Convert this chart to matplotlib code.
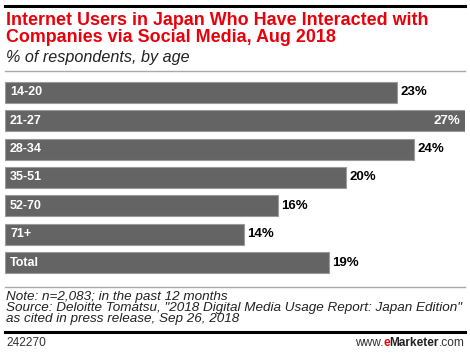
import matplotlib.pyplot as plt
from matplotlib.lines import Line2D

W, H = 470, 357

categories = ["14-20", "21-27", "28-34", "35-51", "52-70", "71+", "Total"]
values = [23, 27, 24, 20, 16, 14, 19]

title = "Internet Users in Japan Who Have Interacted with\nCompanies via Social Media, Aug 2018"
subtitle = "% of respondents, by age"
note = ("Note: n=2,083; in the past 12 months\n"
        "Source: Deloitte Tomatsu, \"2018 Digital Media Usage Report: Japan Edition\"\n"
        "as cited in press release, Sep 26, 2018")
chart_id = "242270"

plt.rcParams["font.family"] = ["Liberation Sans", "DejaVu Sans"]

fig = plt.figure(figsize=(W / 100, H / 100), dpi=100)


def fx(px):
    return px / W


def fy(py):
    return 1 - py / H


def hline(y, x0, x1, color, lw):
    fig.add_artist(Line2D([fx(x0), fx(x1)], [fy(y), fy(y)], color=color,
                          linewidth=lw, transform=fig.transFigure))


# header
hline(6, 5, 465, "black", 2.2)
fig.text(fx(6), fy(12), title, color="#e8000b", fontsize=12.9, fontweight="bold",
         va="top", ha="left", linespacing=0.98)
fig.text(fx(6), fy(50), subtitle, color="#222222", fontsize=11.6, style="italic",
         va="top", ha="left")
hline(71, 5, 465, "#aaaaaa", 1)

# bars
ax = fig.add_axes([fx(5), fy(276.7), fx(465) - fx(5), (276.7 - 78.3) / H])
y = range(len(categories))
ax.barh(y, values, height=0.74, color="#646464", edgecolor="#9a9a9a", linewidth=0.8)
ax.set_xlim(0, 27)
ax.set_ylim(6.5, -0.5)
ax.axis("off")

for i, (cat, v) in enumerate(zip(categories, values)):
    ax.text(0.3, i, cat, color="white", fontweight="bold", fontsize=9,
            va="center", ha="left")
    if v == max(values):
        ax.text(v - 0.3, i, f"{v}%", color="white", fontweight="bold",
                fontsize=9.5, va="center", ha="right")
    else:
        ax.text(v + 0.2, i, f"{v}%", color="black", fontweight="bold",
                fontsize=9.5, va="center", ha="left")

# footer
hline(287, 5, 465, "#aaaaaa", 1)
fig.text(fx(6), fy(291), note, color="#222222", fontsize=9.7, style="italic",
         va="top", ha="left", linespacing=0.9)
hline(332, 5, 465, "black", 2.2)
fs_foot = 8.6
fig.text(fx(6), fy(343), chart_id, color="#333333", fontsize=fs_foot,
         va="center", ha="left")
# eMarketer logo text built from pieces, right aligned
r = fig.canvas.get_renderer()
t3 = fig.text(fx(465), fy(343), ".com", color="#333333", fontsize=fs_foot,
              va="center", ha="right")
bb = t3.get_window_extent(r)
t2 = fig.text(bb.x0 / W, fy(343), "Marketer", color="#222222", fontsize=fs_foot,
              fontweight="bold", va="center", ha="right")
bb = t2.get_window_extent(r)
t1 = fig.text(bb.x0 / W, fy(343), "e", color="#e8000b", fontsize=fs_foot,
              fontweight="bold", va="center", ha="right")
bb = t1.get_window_extent(r)
fig.text(bb.x0 / W, fy(343), "www.", color="#333333", fontsize=fs_foot,
         va="center", ha="right")

fig.savefig("out.png", dpi=100)
